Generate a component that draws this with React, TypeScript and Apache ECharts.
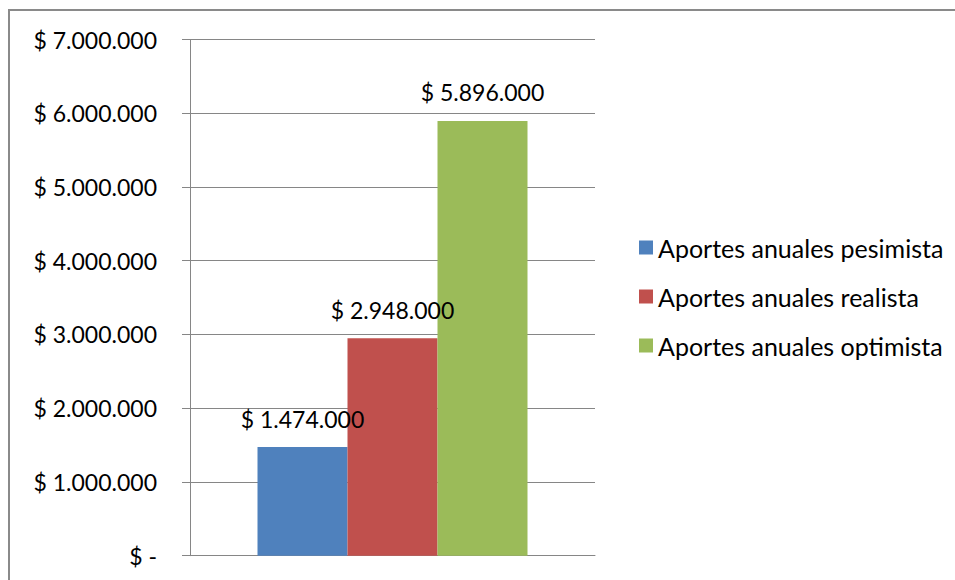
import React, { useEffect, useRef } from "react";
import * as echarts from "echarts";

const categories = ["Aportes"];
const seriesNames = [
  "Aportes anuales pesimista",
  "Aportes anuales realista",
  "Aportes anuales optimista",
];
const seriesValues = [[1474000], [2948000], [5896000]];
const seriesColors = ["#4F81BD", "#C0504D", "#9BBB59"];
const yMin = 0;
const yMax = 7000000;
const yInterval = 1000000;

const FONT = "Lato";
const FS = 23;
const LEGEND_FS = 25;

function fmt(v: number): string {
  if (v === 0) return "$ -";
  const s = Math.round(v).toString().replace(/\B(?=(\d{3})+(?!\d))/g, ".");
  return "$ " + s;
}

export default function App() {
  const ref = useRef<HTMLDivElement>(null);
  useEffect(() => {
    if (!ref.current) return;
    const chart = echarts.init(ref.current, undefined, { renderer: "svg" });
    const legendTops = [219, 268, 317];
    chart.setOption({
      animation: false,
      backgroundColor: "#ffffff",
      grid: { left: 180, right: 360, top: 28.5, bottom: 24.3, containLabel: false },
      xAxis: {
        type: "category",
        data: categories,
        axisLine: { show: true, lineStyle: { color: "#868686", width: 1 } },
        axisTick: { show: false },
        axisLabel: { show: false },
        splitLine: { show: false },
      },
      yAxis: {
        type: "value",
        min: yMin,
        max: yMax,
        interval: yInterval,
        axisLine: { show: true, lineStyle: { color: "#868686", width: 1 } },
        axisTick: { show: true, length: 8, lineStyle: { color: "#868686" } },
        axisLabel: {
          margin: 33,
          color: "#000",
          fontFamily: FONT,
          fontSize: FS,
          formatter: (v: number) => fmt(v),
        },
        splitLine: { show: true, lineStyle: { color: "#868686", width: 1 } },
      },
      legend: seriesNames.map((n, i) => ({
        orient: "vertical",
        left: 624,
        top: legendTops[i],
        data: [n],
        itemWidth: 14,
        itemHeight: 14,
        icon: "rect",
        selectedMode: false,
        textStyle: { color: "#000", fontFamily: FONT, fontSize: LEGEND_FS },
      })),
      series: seriesNames.map((n, i) => ({
        type: "bar",
        name: n,
        data: seriesValues[i],
        barWidth: 90,
        barGap: "0%",
        itemStyle: { color: seriesColors[i] },
        label: {
          show: true,
          position: "top",
          distance: 17,
          color: "#000",
          fontFamily: FONT,
          fontSize: FS,
          formatter: (p: any) => fmt(p.value),
        },
      })),
    });
    return () => chart.dispose();
  }, []);
  return (
    <div
      style={{
        position: "absolute",
        left: 8,
        top: 9,
        borderLeft: "2px solid #8a8a8a",
        borderTop: "2px solid #8a8a8a",
        background: "#fff",
      }}
    >
      <div ref={ref} style={{ width: 945, height: 569 }} />
    </div>
  );
}
